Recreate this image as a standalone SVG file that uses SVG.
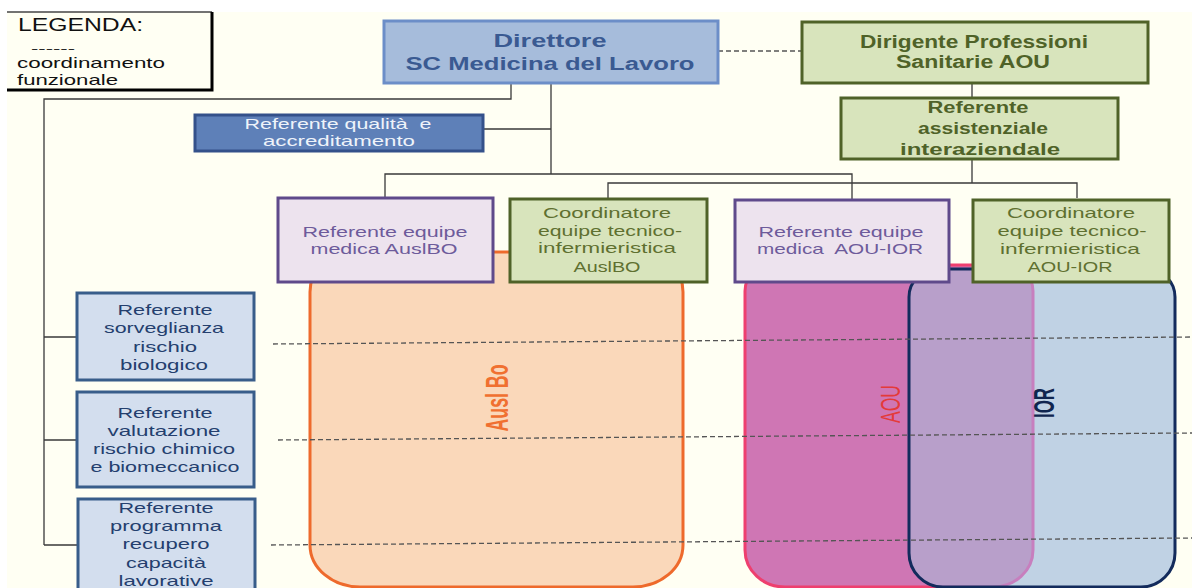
<svg xmlns="http://www.w3.org/2000/svg" width="1192" height="588" viewBox="0 0 1192 588">
<defs>
<style>
text{font-family:"Liberation Sans",Arial,sans-serif;}
.conn{fill:none;stroke:#3a3a3a;stroke-width:1.3;}
.dash{fill:none;stroke:#555;stroke-width:1.3;stroke-dasharray:5 3;}
.dir{fill:#A6BCDB;stroke:#6C8EC8;stroke-width:3;}
.dirt{fill:#3A5A92;font-weight:bold;font-size:18px;text-anchor:middle;}
.grn{fill:#D8E4BC;stroke:#4F6228;stroke-width:3;}
.grnt{fill:#4F6228;font-weight:bold;text-anchor:middle;}
.coort{fill:#5F7030;font-size:15px;text-anchor:middle;}
.pur{fill:#EDE3EE;stroke:#5F4A8B;stroke-width:3;}
.purt{fill:#6D5B9B;font-size:15px;text-anchor:middle;}
.lb{fill:#D3DEEE;stroke:#385D8A;stroke-width:3;}
.lbt{fill:#243F6E;font-size:15px;text-anchor:middle;}
.qual{fill:#5E80B8;stroke:#34518A;stroke-width:3;}
.qualt{fill:#EEF3FA;font-size:15px;text-anchor:middle;}
.leg{fill:#111;font-size:15px;}
</style>
<clipPath id="iorclip">
<path d="M937,269 H1147 A28 28 0 0 1 1175,297 V553 A34 34 0 0 1 1141,587 H943 A34 34 0 0 1 909,553 V297 A28 28 0 0 1 937,269 Z"/>
</clipPath>
</defs>
<rect x="0" y="0" width="1192" height="588" fill="#FFFFFF"/>
<rect x="7" y="12" width="1185" height="576" fill="#FFFFF3"/>

<g id="legend">
<path d="M7,12 H212" stroke="#444" stroke-width="1.5" fill="none"/>
<path d="M212,12 V90 H7" stroke="#000" stroke-width="3" fill="none"/>
<text class="leg" x="18" y="31" textLength="125" lengthAdjust="spacingAndGlyphs" style="font-size:18px">LEGENDA:</text>
<text class="leg" x="31" y="52" textLength="44" lengthAdjust="spacingAndGlyphs" style="font-size:11px">------</text>
<text class="leg" x="17" y="68" textLength="148" lengthAdjust="spacingAndGlyphs">coordinamento</text>
<text class="leg" x="17" y="85" textLength="101" lengthAdjust="spacingAndGlyphs">funzionale</text>
</g>

<g id="area-auslbo">
<path d="M350,252 H643 A40 40 0 0 1 683,292 V545 A50 42 0 0 1 633,587 H360 A50 42 0 0 1 310,545 V292 A40 40 0 0 1 350,252 Z" fill="#FAD8BA" stroke="#EE6A2C" stroke-width="3"/>
<text transform="translate(508,398) rotate(-90)" text-anchor="middle" fill="#F07030" font-weight="bold" font-size="31" textLength="67" lengthAdjust="spacingAndGlyphs">Ausl Bo</text>
</g>

<g id="area-aou-ior">
<path d="M771,265 H1007 A26 26 0 0 1 1033,291 V550 A40 37 0 0 1 993,587 H785 A40 37 0 0 1 745,550 V291 A26 26 0 0 1 771,265 Z" fill="#CF76B4" stroke="#EE3F6F" stroke-width="3"/>
<path d="M937,269 H1147 A28 28 0 0 1 1175,297 V553 A34 34 0 0 1 1141,587 H943 A34 34 0 0 1 909,553 V297 A28 28 0 0 1 937,269 Z" fill="#C0D2E4"/>
<path clip-path="url(#iorclip)" d="M771,265 H1007 A26 26 0 0 1 1033,291 V550 A40 37 0 0 1 993,587 H785 A40 37 0 0 1 745,550 V291 A26 26 0 0 1 771,265 Z" fill="#B89FCA" stroke="#C77FBE" stroke-width="3"/>
<path d="M937,269 H1147 A28 28 0 0 1 1175,297 V553 A34 34 0 0 1 1141,587 H943 A34 34 0 0 1 909,553 V297 A28 28 0 0 1 937,269 Z" fill="none" stroke="#132B5C" stroke-width="3"/>
<text transform="translate(900,404) rotate(-90)" text-anchor="middle" fill="#E43A3A" font-size="28" textLength="38" lengthAdjust="spacingAndGlyphs">AOU</text>
<text transform="translate(1054,403) rotate(-90)" text-anchor="middle" fill="#10254F" font-weight="bold" font-size="29" textLength="30" lengthAdjust="spacingAndGlyphs">IOR</text>
</g>

<g id="connectors">
<path class="dash" d="M718,51 H801"/>
<path class="conn" d="M511,84 V99 H44 V545"/>
<path class="conn" d="M44,337 H77 M44,440 H77 M44,545 H78"/>
<path class="conn" d="M551,84 V174 M483,129 H551"/>
<path class="conn" d="M385,198 V174 H852 V199"/>
<path class="conn" d="M972,83 V98 M972,159 V183 M608,198 V183 H1077 V198"/>
<path class="dash" d="M273,344 L1192,337"/>
<path class="dash" d="M278,440 L1192,433"/>
<path class="dash" d="M271,545 L1192,538"/>
</g>

<g id="direttore">
<rect class="dir" x="384" y="21" width="334" height="62"/>
<text class="dirt" x="550" y="47" textLength="113" lengthAdjust="spacingAndGlyphs">Direttore</text>
<text class="dirt" x="550" y="70" textLength="289" lengthAdjust="spacingAndGlyphs">SC Medicina del Lavoro</text>
</g>

<g id="dirigente">
<rect class="grn" x="802" y="22" width="346" height="61"/>
<text class="grnt" x="974" y="48" font-size="18" textLength="228" lengthAdjust="spacingAndGlyphs">Dirigente Professioni</text>
<text class="grnt" x="973" y="68" font-size="18" textLength="154" lengthAdjust="spacingAndGlyphs">Sanitarie AOU</text>
</g>

<g id="referente-assistenziale">
<rect class="grn" x="841" y="98" width="277" height="61"/>
<text class="grnt" x="978" y="113" font-size="16" textLength="101" lengthAdjust="spacingAndGlyphs">Referente</text>
<text class="grnt" x="983" y="134" font-size="16" textLength="130" lengthAdjust="spacingAndGlyphs">assistenziale</text>
<text class="grnt" x="980" y="155" font-size="16" textLength="160" lengthAdjust="spacingAndGlyphs">interaziendale</text>
</g>

<g id="referente-qualita">
<rect class="qual" x="195" y="115" width="288" height="36"/>
<text class="qualt" x="338" y="129" xml:space="preserve" textLength="187" lengthAdjust="spacingAndGlyphs">Referente qualità  e</text>
<text class="qualt" x="339" y="146" textLength="152" lengthAdjust="spacingAndGlyphs">accreditamento</text>
</g>

<g id="medica-auslbo">
<rect class="pur" x="278" y="198" width="215" height="84"/>
<text class="purt" x="385" y="237" textLength="165" lengthAdjust="spacingAndGlyphs">Referente equipe</text>
<text class="purt" x="384" y="254" textLength="147" lengthAdjust="spacingAndGlyphs">medica AuslBO</text>
</g>

<g id="coord-auslbo">
<rect class="grn" x="510" y="199" width="197" height="83"/>
<text class="coort" x="607" y="218" textLength="128" lengthAdjust="spacingAndGlyphs">Coordinatore</text>
<text class="coort" x="610" y="236" textLength="144" lengthAdjust="spacingAndGlyphs">equipe tecnico-</text>
<text class="coort" x="607" y="253" textLength="138" lengthAdjust="spacingAndGlyphs">infermieristica</text>
<text class="coort" x="607" y="272" textLength="67" lengthAdjust="spacingAndGlyphs">AuslBO</text>
</g>

<g id="medica-aou-ior">
<rect class="pur" x="735" y="200" width="214" height="82"/>
<text class="purt" x="841" y="237" textLength="165" lengthAdjust="spacingAndGlyphs">Referente equipe</text>
<text class="purt" x="840" y="254" xml:space="preserve" textLength="166" lengthAdjust="spacingAndGlyphs">medica  AOU-IOR</text>
</g>

<g id="coord-aou-ior">
<rect class="grn" x="973" y="200" width="196" height="82"/>
<text class="coort" x="1071" y="218" textLength="128" lengthAdjust="spacingAndGlyphs">Coordinatore</text>
<text class="coort" x="1072" y="236" textLength="149" lengthAdjust="spacingAndGlyphs">equipe tecnico-</text>
<text class="coort" x="1070" y="254" textLength="140" lengthAdjust="spacingAndGlyphs">infermieristica</text>
<text class="coort" x="1070" y="272" textLength="85" lengthAdjust="spacingAndGlyphs">AOU-IOR</text>
</g>

<g id="ref-biologico">
<rect class="lb" x="77" y="293" width="177" height="87"/>
<text class="lbt" x="165" y="315" textLength="95" lengthAdjust="spacingAndGlyphs">Referente</text>
<text class="lbt" x="164" y="333" textLength="120" lengthAdjust="spacingAndGlyphs">sorveglianza</text>
<text class="lbt" x="165" y="352" textLength="64" lengthAdjust="spacingAndGlyphs">rischio</text>
<text class="lbt" x="164" y="370" textLength="88" lengthAdjust="spacingAndGlyphs">biologico</text>
</g>

<g id="ref-chimico">
<rect class="lb" x="77" y="392" width="177" height="95"/>
<text class="lbt" x="165" y="418" textLength="95" lengthAdjust="spacingAndGlyphs">Referente</text>
<text class="lbt" x="164" y="436" textLength="113" lengthAdjust="spacingAndGlyphs">valutazione</text>
<text class="lbt" x="164" y="454" textLength="142" lengthAdjust="spacingAndGlyphs">rischio chimico</text>
<text class="lbt" x="165" y="472" textLength="149" lengthAdjust="spacingAndGlyphs">e biomeccanico</text>
</g>

<g id="ref-recupero">
<rect class="lb" x="78" y="499" width="177" height="100"/>
<text class="lbt" x="166" y="513" textLength="95" lengthAdjust="spacingAndGlyphs">Referente</text>
<text class="lbt" x="166" y="531" textLength="112" lengthAdjust="spacingAndGlyphs">programma</text>
<text class="lbt" x="166" y="549" textLength="87" lengthAdjust="spacingAndGlyphs">recupero</text>
<text class="lbt" x="166" y="568" textLength="80" lengthAdjust="spacingAndGlyphs">capacità</text>
<text class="lbt" x="166" y="586" textLength="95" lengthAdjust="spacingAndGlyphs">lavorative</text>
</g>
</svg>
